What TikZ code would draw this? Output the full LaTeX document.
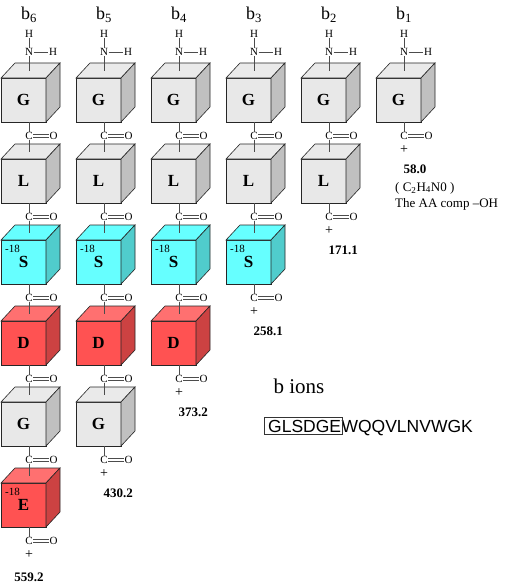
\documentclass[tikz,border=0pt]{standalone}
\usepackage{fontspec}
\setmainfont{Liberation Serif}
\newfontfamily\seqfont{Liberation Sans}
\usetikzlibrary{calc}

\definecolor{greyfront}{RGB}{232,232,232}
\definecolor{greytop}{RGB}{234,234,234}
\definecolor{greyside}{RGB}{192,192,192}
\definecolor{cyanfront}{RGB}{102,255,255}
\definecolor{cyantop}{RGB}{102,255,255}
\definecolor{cyanside}{RGB}{80,204,204}
\definecolor{redfront}{RGB}{255,82,82}
\definecolor{redtop}{RGB}{255,112,112}
\definecolor{redside}{RGB}{204,66,66}

% residue cube: name, left x, top y, colour set, letter, mass loss
\newcommand{\aacube}[6]{%
  \filldraw[cubeline, fill=#4front] (#2,#3) rectangle (#2+45,#3+44);
  \filldraw[cubeline, fill=#4top] (#2,#3) -- (#2+14,#3-15) -- (#2+59,#3-15) -- (#2+45,#3) -- cycle;
  \filldraw[cubeline, fill=#4side] (#2+45,#3) -- (#2+59,#3-15) -- (#2+59,#3+29) -- (#2+45,#3+44) -- cycle;
  \node[res] (#1) at (#2+22.5,#3+22) {#5};
  \node[loss] at (#2+4,#3+9) {#6};
  \coordinate (t#1) at (#2+28,#3-7);
  \coordinate (b#1) at (#2+28,#3+44);
}

\begin{document}
\begin{tikzpicture}[x=1pt, y=-1pt,
  cubeline/.style={draw=black!85, line width=0.6pt},
  res/.style={font=\fontsize{17}{18}\selectfont\bfseries},
  loss/.style={anchor=west, inner sep=0pt, font=\fontsize{11}{12}\selectfont},
  atom/.style={inner sep=0.5pt, font=\fontsize{11}{12}\selectfont},
  charge/.style={inner sep=0.5pt, font=\fontsize{14}{15}\selectfont},
  bond/.style={draw=black!70, line width=0.6pt},
  blabel/.style={font=\fontsize{18}{20}\selectfont},
  mass/.style={anchor=west, font=\fontsize{13}{14}\selectfont\bfseries},
  note/.style={anchor=west, inner sep=0pt, font=\fontsize{13}{14}\selectfont},
  seqtext/.style={anchor=west, inner sep=0pt, font=\seqfont\fontsize{17.5}{19}\selectfont}
]
\useasboundingbox (0,0) rectangle (506,586);

% cubes
\foreach \col/\xo in {6/1,5/76,4/151,3/226,2/301,1/376} {
  \foreach \r/\kind/\lost [count=\i from 1, evaluate=\i as \yt using 78+81*(\i-1)] in {G/grey/,L/grey/,S/cyan/-18,D/red/,G/grey/,E/red/-18} {
    \ifnum\i>\col\relax\else
      \aacube{r\col\i}{\xo}{\yt}{\kind}{\r}{\lost}
    \fi
  }
}

% amine ends and carbonyls
\foreach \col/\xo in {6/1,5/76,4/151,3/226,2/301,1/376} {
  \node[blabel] (b\col) at (\xo+28,15) {b\textsubscript{\col}};
  \node[atom] (h\col) at (\xo+28,34) {H};
  \node[atom] (n\col) at (\xo+28,52) {N};
  \node[atom] (hn\col) at (\xo+52,52) {H};
  \draw[bond] (h\col) -- (n\col);
  \draw[bond] (n\col) -- (hn\col);
  \draw[bond] (n\col) -- (tr\col1);
  \foreach \i [evaluate=\i as \j using int(\i+1)] in {1,...,\col} {
    \node[atom] (c\col\i) at (\xo+28,55+81*\i) {C};
    \node[atom] (o\col\i) at (\xo+52.5,55+81*\i) {O};
    \draw[bond] (br\col\i) -- (c\col\i);
    \draw[bond, double, double distance=2.2pt] (c\col\i) -- (o\col\i);
    \ifnum\i<\col\relax
      \draw[bond] (c\col\i) -- (tr\col\j);
    \fi
  }
  \node[charge] (plus\col) at (\xo+28,69+81*\col) {+};
}

% ion masses
\node[mass, anchor=center] (m6) at (29,577) {559.2};
\node[mass] (m5) at (100,493) {430.2};
\node[mass] (m4) at (175,412) {373.2};
\node[mass] (m3) at (250,331) {258.1};
\node[mass] (m2) at (325,250) {171.1};
\node[mass] (m1) at (400,169) {58.0};

\node[note] (formula) at (395,188) {( C\textsubscript{2}H\textsubscript{4}N0 )};
\node[note] (comp) at (395,204) {The AA comp –OH};

\node[anchor=west, font=\fontsize{21}{23}\selectfont] (bions) at (270,386) {b ions};
\node[seqtext] (hl) at (268,426) {GLSDGE};
\node[seqtext, anchor=base west] (rest) at (hl.base east) {WQQVLNVWGK};
\draw[line width=0.6pt, black!80] ($(hl.south west)+(-4,2)$) rectangle ($(hl.north east)+(1,-2)$);
\end{tikzpicture}
\end{document}
